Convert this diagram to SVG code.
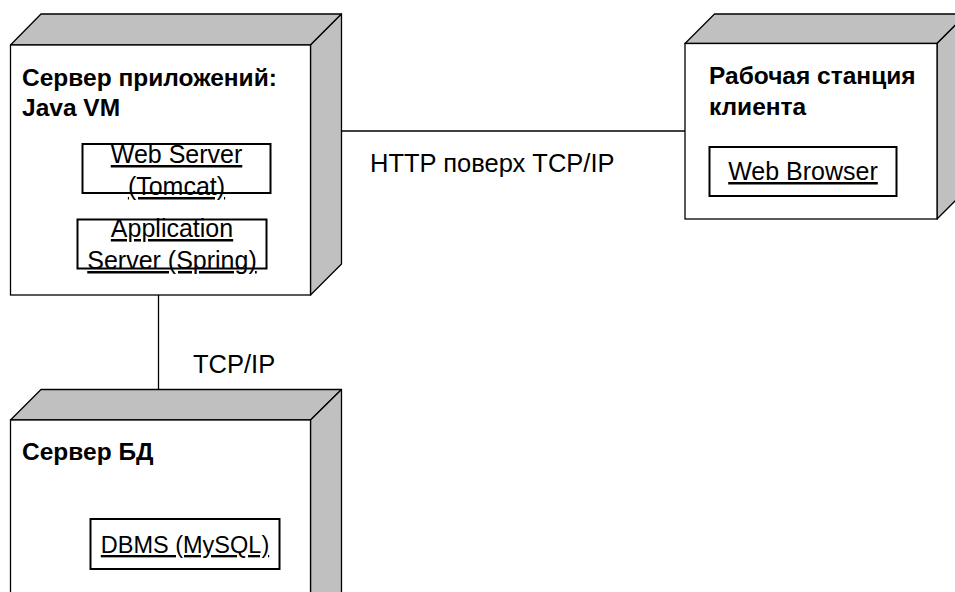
<svg xmlns="http://www.w3.org/2000/svg" width="955" height="592" viewBox="0 0 955 592">
<style>
.face{fill:#ffffff;stroke:#000;stroke-width:1.3}
.shade{fill:#c0c0c0;stroke:#000;stroke-width:1.3;stroke-linejoin:round}
.comp{fill:#ffffff;stroke:#000;stroke-width:2}
.title{font-family:"Liberation Sans",Arial,sans-serif;font-weight:bold;font-size:24.5px;fill:#000}
.lbl{font-family:"Liberation Sans",Arial,sans-serif;font-size:25px;fill:#000;text-anchor:middle;text-decoration:underline}
.conn{font-family:"Liberation Sans",Arial,sans-serif;font-size:25.5px;fill:#000}
.line{stroke:#000;stroke-width:1.3;fill:none}
</style>
<rect width="955" height="592" fill="#ffffff"/>
<g id="connectors">
<line class="line" x1="341.5" y1="131" x2="685" y2="131"/>
<line class="line" x1="158.5" y1="295" x2="158.5" y2="389.5"/>
<text class="conn" x="370" y="171.5">HTTP поверх TCP/IP</text>
<text class="conn" x="193" y="373">TCP/IP</text>
</g>
<g id="app-server">
<polygon class="shade" points="10.5,45 41,14 341.5,14 310.5,45"/>
<polygon class="shade" points="310.5,45 341.5,14 341.5,264 310.5,295"/>
<rect class="face" x="10.5" y="45" width="300" height="250"/>
<text class="title" x="22" y="86">Сервер приложений:</text>
<text class="title" x="22" y="116">Java VM</text>
<g id="web-server">
<rect class="comp" x="82.5" y="144" width="188" height="49"/>
<text class="lbl" x="176.5" y="163">Web Server</text>
<text class="lbl" x="176.5" y="195">(Tomcat)</text>
</g>
<g id="application-server">
<rect class="comp" x="77.5" y="219.5" width="189" height="49"/>
<text class="lbl" x="172" y="237">Application</text>
<text class="lbl" x="172" y="269">Server (Spring)</text>
</g>
</g>
<g id="client-workstation">
<polygon class="shade" points="685,43.5 714.5,14 966.5,14 937,43.5"/>
<polygon class="shade" points="937,43.5 966.5,14 966.5,189.5 937,219"/>
<rect class="face" x="685" y="43.5" width="252" height="175.5"/>
<text class="title" x="709" y="83.5">Рабочая станция</text>
<text class="title" x="709" y="115">клиента</text>
<g id="web-browser">
<rect class="comp" x="709.5" y="147" width="187" height="49"/>
<text class="lbl" x="803" y="180">Web Browser</text>
</g>
</g>
<g id="db-server">
<polygon class="shade" points="10.5,420 41,389.5 341.5,389.5 310.5,420"/>
<polygon class="shade" points="310.5,420 341.5,389.5 341.5,620 310.5,650"/>
<rect class="face" x="10.5" y="420" width="300" height="230"/>
<text class="title" x="22" y="460">Сервер БД</text>
<g id="dbms">
<rect class="comp" x="90.5" y="519" width="189" height="50"/>
<text class="lbl" x="185" y="553" style="font-size:23.5px">DBMS (MySQL)</text>
</g>
</g>
</svg>
